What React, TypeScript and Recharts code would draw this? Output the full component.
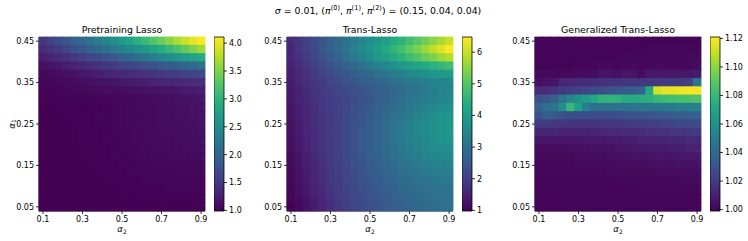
import React from 'react';
import { ScatterChart, Scatter, XAxis, YAxis, BarChart, Bar } from 'recharts';

// ---------------- data ----------------
const alpha2Values = [0.1, 0.14, 0.18, 0.22, 0.26, 0.3, 0.34, 0.38, 0.42, 0.46, 0.5, 0.54, 0.58, 0.62, 0.66, 0.7, 0.74, 0.78, 0.82, 0.86, 0.9];
// rows from top (0.45) to bottom (0.05)
const alpha1Values = [0.45, 0.43, 0.41, 0.39, 0.37, 0.35, 0.33, 0.31, 0.29, 0.27, 0.25, 0.23, 0.21, 0.19, 0.17, 0.15, 0.13, 0.11, 0.09, 0.07, 0.05];
const xTicks = [0.1, 0.3, 0.5, 0.7, 0.9];
const yTicks = [0.05, 0.15, 0.25, 0.35, 0.45];

const pretrainingLasso = [
  [1.50, 1.60, 1.72, 1.85, 1.95, 2.05, 2.15, 2.28, 2.40, 2.52, 2.65, 2.80, 2.95, 3.10, 3.25, 3.40, 3.55, 3.70, 3.85, 4.00, 4.10],
  [1.38, 1.45, 1.55, 1.65, 1.75, 1.85, 1.95, 2.05, 2.15, 2.25, 2.35, 2.45, 2.55, 2.65, 2.78, 2.90, 3.05, 3.20, 3.35, 3.50, 3.65],
  [1.25, 1.30, 1.37, 1.44, 1.50, 1.57, 1.64, 1.70, 1.78, 1.86, 1.95, 2.03, 2.12, 2.20, 2.30, 2.40, 2.50, 2.60, 2.70, 2.80, 2.88],
  [1.12, 1.16, 1.20, 1.24, 1.28, 1.33, 1.38, 1.43, 1.48, 1.53, 1.58, 1.63, 1.68, 1.73, 1.78, 1.83, 1.88, 1.94, 2.00, 2.07, 2.14],
  [1.06, 1.08, 1.10, 1.13, 1.16, 1.19, 1.22, 1.25, 1.28, 1.31, 1.34, 1.37, 1.40, 1.43, 1.46, 1.49, 1.52, 1.55, 1.58, 1.62, 1.66],
  [1.03, 1.04, 1.05, 1.07, 1.09, 1.10, 1.12, 1.14, 1.16, 1.18, 1.20, 1.22, 1.24, 1.26, 1.28, 1.30, 1.32, 1.34, 1.36, 1.38, 1.40],
  [1.01, 1.02, 1.03, 1.04, 1.05, 1.06, 1.07, 1.08, 1.09, 1.10, 1.11, 1.12, 1.13, 1.14, 1.15, 1.16, 1.17, 1.19, 1.21, 1.23, 1.25],
  [1.01, 1.01, 1.02, 1.02, 1.02, 1.02, 1.02, 1.03, 1.03, 1.04, 1.05, 1.06, 1.07, 1.08, 1.09, 1.10, 1.11, 1.12, 1.14, 1.16, 1.18],
  [1.00, 1.00, 1.01, 1.01, 1.01, 1.00, 1.00, 1.01, 1.02, 1.03, 1.04, 1.05, 1.06, 1.07, 1.08, 1.09, 1.10, 1.11, 1.12, 1.14, 1.15],
  [1.00, 1.00, 1.00, 1.01, 1.01, 1.01, 1.01, 1.02, 1.02, 1.03, 1.04, 1.05, 1.06, 1.07, 1.08, 1.09, 1.10, 1.11, 1.12, 1.13, 1.14],
  [1.00, 1.00, 1.00, 1.00, 1.01, 1.01, 1.01, 1.02, 1.02, 1.03, 1.04, 1.05, 1.06, 1.07, 1.08, 1.09, 1.10, 1.10, 1.11, 1.12, 1.13],
  [1.00, 1.00, 1.00, 1.00, 1.00, 1.01, 1.01, 1.01, 1.02, 1.03, 1.03, 1.04, 1.05, 1.06, 1.07, 1.08, 1.09, 1.10, 1.10, 1.11, 1.12],
  [1.00, 1.00, 1.00, 1.00, 1.00, 1.01, 1.01, 1.01, 1.02, 1.02, 1.03, 1.04, 1.05, 1.06, 1.07, 1.07, 1.08, 1.09, 1.10, 1.10, 1.11],
  [1.00, 1.00, 1.00, 1.00, 1.00, 1.00, 1.01, 1.01, 1.01, 1.02, 1.03, 1.03, 1.04, 1.05, 1.06, 1.07, 1.07, 1.08, 1.09, 1.09, 1.10],
  [1.00, 1.00, 1.00, 1.00, 1.00, 1.00, 1.01, 1.01, 1.01, 1.02, 1.02, 1.03, 1.04, 1.04, 1.05, 1.06, 1.06, 1.07, 1.07, 1.08, 1.08],
  [1.00, 1.00, 1.00, 1.00, 1.00, 1.00, 1.00, 1.01, 1.01, 1.01, 1.02, 1.02, 1.03, 1.03, 1.04, 1.04, 1.05, 1.05, 1.06, 1.06, 1.06],
  [1.00, 1.00, 1.00, 1.00, 1.00, 1.00, 1.00, 1.00, 1.01, 1.01, 1.01, 1.02, 1.02, 1.02, 1.03, 1.03, 1.03, 1.04, 1.04, 1.04, 1.04],
  [1.00, 1.00, 1.00, 1.00, 1.00, 1.00, 1.00, 1.00, 1.00, 1.01, 1.01, 1.01, 1.01, 1.02, 1.02, 1.02, 1.02, 1.03, 1.03, 1.03, 1.03],
  [1.00, 1.00, 1.00, 1.00, 1.00, 1.00, 1.00, 1.00, 1.00, 1.00, 1.01, 1.01, 1.01, 1.01, 1.01, 1.01, 1.02, 1.02, 1.02, 1.02, 1.02],
  [1.00, 1.00, 1.00, 1.00, 1.00, 1.00, 1.00, 1.00, 1.00, 1.00, 1.00, 1.00, 1.01, 1.01, 1.01, 1.01, 1.01, 1.01, 1.01, 1.01, 1.01],
  [1.00, 1.00, 1.00, 1.00, 1.00, 1.00, 1.00, 1.00, 1.00, 1.00, 1.00, 1.00, 1.00, 1.00, 1.00, 1.00, 1.00, 1.00, 1.00, 1.00, 1.00],
];

const transLasso = [
  [1.65, 1.85, 2.05, 2.25, 2.45, 2.65, 2.85, 3.05, 3.25, 3.45, 3.65, 3.85, 4.05, 4.30, 4.50, 4.75, 5.00, 5.25, 5.50, 5.75, 6.00],
  [1.60, 1.80, 2.00, 2.20, 2.45, 2.65, 2.90, 3.10, 3.35, 3.60, 3.80, 4.05, 4.30, 4.55, 4.80, 5.10, 5.35, 5.65, 5.95, 6.20, 6.45],
  [1.55, 1.75, 1.95, 2.15, 2.35, 2.55, 2.75, 2.95, 3.20, 3.40, 3.60, 3.85, 4.05, 4.30, 4.50, 4.75, 4.95, 5.20, 5.40, 5.65, 5.85],
  [1.50, 1.70, 1.85, 2.00, 2.20, 2.35, 2.50, 2.70, 2.85, 3.00, 3.20, 3.35, 3.50, 3.70, 3.85, 4.00, 4.15, 4.30, 4.45, 4.60, 4.75],
  [1.45, 1.60, 1.75, 1.90, 2.05, 2.20, 2.35, 2.45, 2.60, 2.75, 2.85, 3.00, 3.10, 3.25, 3.35, 3.50, 3.60, 3.70, 3.80, 3.90, 4.00],
  [1.40, 1.55, 1.70, 1.85, 1.95, 2.10, 2.20, 2.35, 2.45, 2.55, 2.65, 2.75, 2.85, 2.95, 3.05, 3.15, 3.20, 3.30, 3.40, 3.45, 3.50],
  [1.35, 1.50, 1.65, 1.80, 1.90, 2.00, 2.10, 2.20, 2.30, 2.40, 2.50, 2.60, 2.70, 2.80, 2.90, 3.00, 3.10, 3.20, 3.30, 3.40, 3.45],
  [1.35, 1.50, 1.60, 1.75, 1.85, 1.95, 2.05, 2.15, 2.25, 2.35, 2.45, 2.60, 2.70, 2.80, 2.95, 3.05, 3.15, 3.25, 3.35, 3.45, 3.50],
  [1.30, 1.45, 1.60, 1.70, 1.85, 1.95, 2.05, 2.15, 2.30, 2.40, 2.50, 2.65, 2.75, 2.90, 3.00, 3.15, 3.25, 3.40, 3.50, 3.60, 3.65],
  [1.30, 1.45, 1.55, 1.70, 1.80, 1.95, 2.05, 2.20, 2.30, 2.45, 2.55, 2.70, 2.85, 3.00, 3.10, 3.25, 3.40, 3.50, 3.65, 3.75, 3.80],
  [1.25, 1.40, 1.55, 1.70, 1.80, 1.95, 2.05, 2.20, 2.35, 2.45, 2.60, 2.75, 2.90, 3.05, 3.20, 3.35, 3.50, 3.60, 3.70, 3.80, 3.85],
  [1.25, 1.40, 1.55, 1.65, 1.80, 1.95, 2.05, 2.20, 2.35, 2.50, 2.60, 2.75, 2.90, 3.05, 3.20, 3.35, 3.50, 3.60, 3.70, 3.80, 3.85],
  [1.20, 1.35, 1.50, 1.65, 1.80, 1.90, 2.05, 2.20, 2.35, 2.50, 2.60, 2.75, 2.90, 3.05, 3.20, 3.35, 3.45, 3.55, 3.65, 3.75, 3.80],
  [1.20, 1.35, 1.50, 1.65, 1.80, 1.90, 2.05, 2.20, 2.35, 2.50, 2.60, 2.75, 2.90, 3.00, 3.15, 3.30, 3.40, 3.50, 3.60, 3.65, 3.70],
  [1.15, 1.30, 1.45, 1.60, 1.75, 1.90, 2.05, 2.20, 2.30, 2.45, 2.60, 2.70, 2.85, 2.95, 3.05, 3.20, 3.30, 3.40, 3.45, 3.50, 3.55],
  [1.15, 1.30, 1.45, 1.60, 1.75, 1.90, 2.00, 2.15, 2.30, 2.40, 2.55, 2.65, 2.80, 2.90, 3.00, 3.10, 3.20, 3.30, 3.35, 3.40, 3.45],
  [1.10, 1.25, 1.40, 1.55, 1.70, 1.85, 2.00, 2.10, 2.25, 2.40, 2.50, 2.60, 2.75, 2.85, 2.95, 3.00, 3.10, 3.15, 3.20, 3.25, 3.30],
  [1.10, 1.25, 1.40, 1.55, 1.70, 1.85, 1.95, 2.10, 2.20, 2.35, 2.45, 2.55, 2.65, 2.75, 2.85, 2.90, 3.00, 3.05, 3.10, 3.15, 3.20],
  [1.05, 1.20, 1.35, 1.50, 1.65, 1.80, 1.95, 2.05, 2.20, 2.30, 2.40, 2.50, 2.60, 2.70, 2.80, 2.85, 2.90, 2.95, 3.00, 3.05, 3.10],
  [1.05, 1.15, 1.30, 1.45, 1.60, 1.75, 1.90, 2.00, 2.15, 2.25, 2.35, 2.45, 2.55, 2.65, 2.70, 2.80, 2.85, 2.90, 2.95, 3.00, 3.05],
  [1.00, 1.10, 1.25, 1.40, 1.55, 1.70, 1.85, 2.00, 2.10, 2.20, 2.30, 2.40, 2.50, 2.60, 2.65, 2.75, 2.80, 2.85, 2.90, 2.95, 3.00],
];

const generalizedTransLasso = [
  [1.000, 1.000, 1.000, 1.000, 1.000, 1.000, 1.000, 1.000, 1.000, 1.000, 1.000, 1.000, 1.000, 1.000, 1.000, 1.000, 1.000, 1.000, 1.000, 1.000, 1.000],
  [1.000, 1.000, 1.000, 1.000, 1.000, 1.000, 1.000, 1.000, 1.000, 1.000, 1.000, 1.000, 1.000, 1.000, 1.001, 1.001, 1.001, 1.001, 1.001, 1.001, 1.001],
  [1.000, 1.000, 1.000, 1.000, 1.000, 1.000, 1.000, 1.000, 1.000, 1.000, 1.001, 1.001, 1.001, 1.001, 1.001, 1.001, 1.001, 1.001, 1.001, 1.002, 1.002],
  [1.000, 1.000, 1.000, 1.000, 1.000, 1.001, 1.001, 1.001, 1.002, 1.002, 1.001, 1.002, 1.002, 1.001, 1.002, 1.002, 1.002, 1.002, 1.002, 1.002, 1.003],
  [1.002, 1.002, 1.002, 1.002, 1.002, 1.003, 1.003, 1.003, 1.006, 1.006, 1.004, 1.007, 1.006, 1.003, 1.007, 1.007, 1.007, 1.007, 1.007, 1.007, 1.008],
  [1.004, 1.005, 1.006, 1.012, 1.013, 1.014, 1.014, 1.015, 1.016, 1.016, 1.017, 1.017, 1.018, 1.018, 1.018, 1.019, 1.019, 1.020, 1.020, 1.022, 1.046],
  [1.014, 1.015, 1.017, 1.019, 1.021, 1.022, 1.024, 1.026, 1.028, 1.030, 1.032, 1.034, 1.035, 1.037, 1.072, 1.112, 1.116, 1.117, 1.118, 1.119, 1.120],
  [1.030, 1.031, 1.037, 1.047, 1.055, 1.060, 1.066, 1.072, 1.078, 1.079, 1.078, 1.074, 1.074, 1.075, 1.076, 1.080, 1.082, 1.084, 1.085, 1.086, 1.087],
  [1.036, 1.044, 1.046, 1.058, 1.080, 1.068, 1.050, 1.043, 1.044, 1.044, 1.045, 1.045, 1.046, 1.046, 1.047, 1.048, 1.048, 1.049, 1.050, 1.050, 1.051],
  [1.030, 1.035, 1.033, 1.030, 1.028, 1.028, 1.028, 1.027, 1.027, 1.028, 1.028, 1.029, 1.030, 1.030, 1.031, 1.032, 1.033, 1.034, 1.035, 1.036, 1.037],
  [1.020, 1.020, 1.019, 1.018, 1.018, 1.017, 1.017, 1.017, 1.018, 1.018, 1.019, 1.019, 1.020, 1.021, 1.022, 1.022, 1.023, 1.024, 1.025, 1.026, 1.027],
  [1.012, 1.012, 1.012, 1.011, 1.011, 1.011, 1.011, 1.012, 1.012, 1.013, 1.013, 1.014, 1.014, 1.015, 1.016, 1.016, 1.017, 1.018, 1.018, 1.019, 1.020],
  [1.006, 1.006, 1.006, 1.006, 1.006, 1.006, 1.007, 1.007, 1.007, 1.008, 1.008, 1.009, 1.009, 1.010, 1.010, 1.011, 1.011, 1.012, 1.012, 1.013, 1.013],
  [1.003, 1.003, 1.003, 1.003, 1.004, 1.004, 1.004, 1.005, 1.005, 1.005, 1.006, 1.006, 1.007, 1.007, 1.008, 1.008, 1.008, 1.009, 1.009, 1.010, 1.010],
  [1.002, 1.002, 1.002, 1.002, 1.002, 1.003, 1.003, 1.003, 1.003, 1.004, 1.004, 1.004, 1.005, 1.005, 1.005, 1.006, 1.006, 1.006, 1.007, 1.007, 1.007],
  [1.001, 1.001, 1.001, 1.001, 1.001, 1.002, 1.002, 1.002, 1.002, 1.002, 1.003, 1.003, 1.003, 1.003, 1.004, 1.004, 1.004, 1.004, 1.005, 1.005, 1.005],
  [1.001, 1.001, 1.001, 1.001, 1.001, 1.001, 1.001, 1.001, 1.001, 1.002, 1.002, 1.002, 1.002, 1.002, 1.002, 1.003, 1.003, 1.003, 1.003, 1.003, 1.003],
  [1.000, 1.000, 1.000, 1.000, 1.000, 1.000, 1.000, 1.000, 1.000, 1.000, 1.001, 1.001, 1.001, 1.001, 1.001, 1.001, 1.001, 1.001, 1.002, 1.002, 1.002],
  [1.000, 1.000, 1.000, 1.000, 1.000, 1.000, 1.000, 1.000, 1.000, 1.000, 1.000, 1.000, 1.000, 1.001, 1.001, 1.001, 1.001, 1.001, 1.001, 1.001, 1.001],
  [1.000, 1.000, 1.000, 1.000, 1.000, 1.000, 1.000, 1.000, 1.000, 1.000, 1.000, 1.000, 1.000, 1.000, 1.000, 1.000, 1.000, 1.000, 1.000, 1.000, 1.000],
  [1.000, 1.000, 1.000, 1.000, 1.000, 1.000, 1.000, 1.000, 1.000, 1.000, 1.000, 1.000, 1.000, 1.000, 1.000, 1.000, 1.000, 1.000, 1.000, 1.000, 1.000],
];

const cbTicksPretraining = [1.0, 1.5, 2.0, 2.5, 3.0, 3.5, 4.0];
const cbTicksTrans = [1, 2, 3, 4, 5, 6];
const cbTicksGeneralized = [1.0, 1.02, 1.04, 1.06, 1.08, 1.1, 1.12];

// ---------------- styling / layout ----------------
const FONT = 'DejaVu Sans';
const VIRIDIS = ['#440154', '#482475', '#414487', '#355f8d', '#2a788e', '#21918c', '#22a884', '#44bf70', '#7ad151', '#bddf26', '#fde725'];

function hexToRgb(h: string) {
  return [parseInt(h.slice(1, 3), 16), parseInt(h.slice(3, 5), 16), parseInt(h.slice(5, 7), 16)];
}
function viridis(t: number) {
  const tt = Math.max(0, Math.min(1, t));
  const p = tt * (VIRIDIS.length - 1);
  const i = Math.min(Math.floor(p), VIRIDIS.length - 2);
  const f = p - i;
  const a = hexToRgb(VIRIDIS[i]);
  const b = hexToRgb(VIRIDIS[i + 1]);
  const c = a.map((v, k) => Math.round(v + (b[k] - v) * f));
  return `rgb(${c[0]},${c[1]},${c[2]})`;
}

const PLOT_TOP = 37;
const PLOT_H = 174;
const PLOT_W = 166;
const YAXIS_W = 39;
const XAXIS_H = 30;
const RIGHT_PAD = 12;
const CHART_H = 241;
const tickStyle = { fontSize: 8, fill: '#000', fontFamily: FONT };

type PanelProps = {
  id: string;
  left: number;
  title: string;
  grid: number[][];
  vmin: number;
  vmax: number;
  cbTicks: number[];
  cbFormat: (v: number) => string;
  showYLabel: boolean;
};

function Panel({ id, left, title, grid, vmin, vmax, cbTicks, cbFormat, showYLabel }: PanelProps) {
  const points: { x: number; y: number; v: number }[] = [];
  alpha1Values.forEach((yv, r) => {
    alpha2Values.forEach((xv, c) => {
      points.push({ x: xv, y: yv, v: grid[r][c] });
    });
  });
  const cw = PLOT_W / alpha2Values.length;
  const ch = PLOT_H / alpha1Values.length;
  const shape = (props: any) => {
    const { cx, cy, payload } = props;
    if (cx == null || cy == null) return <g />;
    return (
      <rect
        x={cx - cw / 2 - 0.4}
        y={cy - ch / 2 - 0.4}
        width={cw + 0.8}
        height={ch + 0.8}
        fill={viridis((payload.v - vmin) / (vmax - vmin))}
      />
    );
  };
  const plotLeft = left + YAXIS_W;
  const cbLeft = plotLeft + 175;
  const gradId = `viridis-${id}`;
  return (
    <>
      <div style={{ position: 'absolute', left, top: 0 }}>
        <ScatterChart width={YAXIS_W + PLOT_W + RIGHT_PAD} height={CHART_H} margin={{ top: PLOT_TOP, right: RIGHT_PAD, bottom: 0, left: 0 }}>
          <Scatter data={points} shape={shape} isAnimationActive={false} />
          <XAxis
            dataKey="x"
            type="number"
            domain={[0.08, 0.92]}
            ticks={xTicks}
            interval={0}
            height={XAXIS_H}
            tickSize={3}
            tickMargin={2}
            tick={tickStyle}
            axisLine={{ stroke: '#000', strokeWidth: 0.8 }}
            tickLine={{ stroke: '#000', strokeWidth: 0.8 }}
          />
          <YAxis
            dataKey="y"
            type="number"
            domain={[0.04, 0.46]}
            ticks={yTicks}
            interval={0}
            width={YAXIS_W}
            tickSize={3}
            tickMargin={2}
            tick={tickStyle}
            axisLine={{ stroke: '#000', strokeWidth: 0.8 }}
            tickLine={{ stroke: '#000', strokeWidth: 0.8 }}
          />
          <XAxis xAxisId="top" orientation="top" type="number" domain={[0, 1]} height={0} tick={false} tickLine={false} axisLine={{ stroke: '#000', strokeWidth: 0.8 }} />
          <YAxis yAxisId="right" orientation="right" type="number" domain={[0, 1]} width={0} tick={false} tickLine={false} axisLine={{ stroke: '#000', strokeWidth: 0.8 }} />
        </ScatterChart>
      </div>
      <div style={{ position: 'absolute', left: cbLeft, top: 0 }}>
        <BarChart
          width={10 + 40}
          height={CHART_H}
          data={[{ name: 'cb', range: [vmin, vmax] }]}
          margin={{ top: PLOT_TOP, right: 0, bottom: XAXIS_H, left: 0 }}
          barCategoryGap={0}
        >
          <defs>
            <linearGradient id={gradId} x1="0" y1="1" x2="0" y2="0">
              {VIRIDIS.map((c, i) => (
                <stop key={i} offset={`${(i / (VIRIDIS.length - 1)) * 100}%`} stopColor={c} />
              ))}
            </linearGradient>
          </defs>
          <XAxis dataKey="name" type="category" hide />
          <YAxis
            orientation="right"
            type="number"
            domain={[vmin, vmax]}
            ticks={cbTicks}
            interval={0}
            width={40}
            tickSize={3}
            tickMargin={2}
            tick={tickStyle}
            tickFormatter={cbFormat}
            axisLine={false}
            tickLine={{ stroke: '#000', strokeWidth: 0.8 }}
          />
          <Bar dataKey="range" fill={`url(#${gradId})`} stroke="#000" strokeWidth={0.8} isAnimationActive={false} />
        </BarChart>
      </div>
      <svg width={748} height={241} style={{ position: 'absolute', left: 0, top: 0, pointerEvents: 'none' }}>
        <text x={plotLeft + PLOT_W / 2} y={32.5} textAnchor="middle" fontSize={9.4} fontFamily={FONT} fill="#000">
          {title}
        </text>
        <text x={plotLeft + PLOT_W / 2} y={232} textAnchor="middle" fontSize={8.5} fontFamily={FONT} fill="#000">
          <tspan fontStyle="italic">α</tspan>
          <tspan fontSize={6} dy={1.8}>2</tspan>
        </text>
        {showYLabel && (
          <text
            x={0}
            y={0}
            transform={`translate(14.5, ${PLOT_TOP + PLOT_H / 2}) rotate(-90)`}
            textAnchor="middle"
            fontSize={8.5}
            fontFamily={FONT}
            fill="#000"
          >
            <tspan fontStyle="italic">α</tspan>
            <tspan fontSize={6} dy={1.8}>1</tspan>
          </text>
        )}
      </svg>
    </>
  );
}

export default function App() {
  return (
    <div style={{ position: 'absolute', left: 0, top: 0, width: 748, height: 241, background: '#fff', overflow: 'hidden' }}>
      <Panel
        id="p1"
        left={0}
        title="Pretraining Lasso"
        grid={pretrainingLasso}
        vmin={0.99}
        vmax={4.11}
        cbTicks={cbTicksPretraining}
        cbFormat={(v) => v.toFixed(1)}
        showYLabel={true}
      />
      <Panel
        id="p2"
        left={248}
        title="Trans-Lasso"
        grid={transLasso}
        vmin={0.98}
        vmax={6.48}
        cbTicks={cbTicksTrans}
        cbFormat={(v) => String(v)}
        showYLabel={false}
      />
      <Panel
        id="p3"
        left={496}
        title="Generalized Trans-Lasso"
        grid={generalizedTransLasso}
        vmin={0.999}
        vmax={1.121}
        cbTicks={cbTicksGeneralized}
        cbFormat={(v) => v.toFixed(2)}
        showYLabel={false}
      />
      <svg width={748} height={241} style={{ position: 'absolute', left: 0, top: 0, pointerEvents: 'none' }}>
        <text x={378} y={13.5} textAnchor="middle" fontSize={9.4} fontFamily={FONT} fill="#000" style={{ whiteSpace: 'pre' }}>
          <tspan fontStyle="italic">σ</tspan>
          <tspan>{' = 0.01, ('}</tspan>
          <tspan fontStyle="italic">π</tspan>
          <tspan fontSize={6.6} dy={-3.6}>(0)</tspan>
          <tspan dy={3.6}>{', '}</tspan>
          <tspan fontStyle="italic">π</tspan>
          <tspan fontSize={6.6} dy={-3.6}>(1)</tspan>
          <tspan dy={3.6}>{', '}</tspan>
          <tspan fontStyle="italic">π</tspan>
          <tspan fontSize={6.6} dy={-3.6}>(2)</tspan>
          <tspan dy={3.6}>{') = (0.15, 0.04, 0.04)'}</tspan>
        </text>
      </svg>
    </div>
  );
}
